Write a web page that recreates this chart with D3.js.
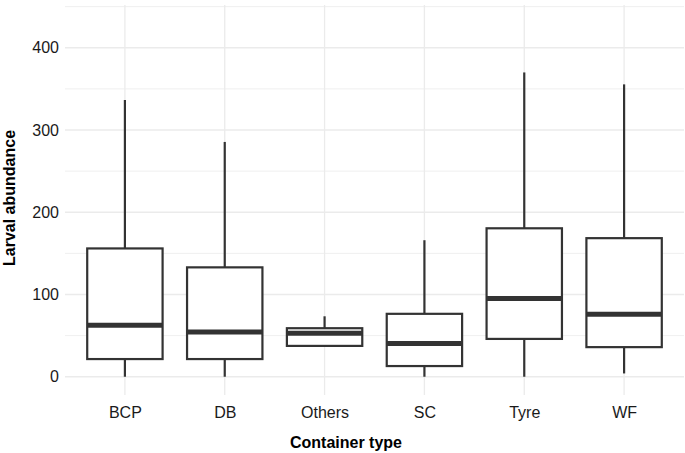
<!DOCTYPE html>
<html>
<head>
<meta charset="utf-8">
<script src="https://cdn.jsdelivr.net/npm/d3@7"></script>
<style>
  html, body { margin: 0; padding: 0; background: #ffffff; }
  svg { display: block; }
</style>
</head>
<body>
<svg id="chart" width="685" height="453"></svg>
<script>
const categories = ["BCP", "DB", "Others", "SC", "Tyre", "WF"];
const whiskerLow = [0, 0, 37, 0, 0, 4];
const q1 = [21.5, 21.5, 37.5, 13, 46, 36];
const median = [62.5, 54.5, 53, 40.5, 95, 76];
const q3 = [156, 133, 59, 76.5, 180.5, 168.5];
const whiskerHigh = [336.5, 285.5, 73.5, 166, 370, 355.5];
const yTicks = [0, 100, 200, 300, 400];
const yMinorTicks = [50, 150, 250, 350, 450];

const data = categories.map((c, i) => ({
  cat: c, lo: whiskerLow[i], q1: q1[i], med: median[i], q3: q3[i], hi: whiskerHigh[i]
}));

const svg = d3.select("#chart");
const pLeft = 65, pRight = 684, pTop = 5, pBottom = 395;

const x = d3.scalePoint().domain(categories).range([pLeft, pRight]).padding(0.6);
const step = x.step();
const boxW = step * 0.755;
const y = d3.scaleLinear().domain([-22.2, 452]).range([pBottom, pTop]);

const grid = svg.append("g");
grid.selectAll("line.minor").data(yMinorTicks).join("line")
  .attr("x1", pLeft).attr("x2", pRight)
  .attr("y1", d => y(d)).attr("y2", d => y(d))
  .attr("stroke", "#ebebeb").attr("stroke-width", 0.8);
grid.selectAll("line.major").data(yTicks).join("line")
  .attr("x1", pLeft).attr("x2", pRight)
  .attr("y1", d => y(d)).attr("y2", d => y(d))
  .attr("stroke", "#ebebeb").attr("stroke-width", 1.3);
grid.selectAll("line.v").data(categories).join("line")
  .attr("x1", d => x(d)).attr("x2", d => x(d))
  .attr("y1", pTop).attr("y2", pBottom)
  .attr("stroke", "#ebebeb").attr("stroke-width", 1.3);

const yAxis = d3.axisLeft(y).tickValues(yTicks).tickSize(0).tickPadding(6);
const gy = svg.append("g").attr("transform", `translate(${pLeft},0)`).call(yAxis);
gy.select(".domain").remove();
gy.selectAll("text").attr("font-family", "Liberation Sans, Arial, sans-serif")
  .attr("font-size", 16).attr("fill", "#1a1a1a");

const xAxis = d3.axisBottom(x).tickSize(0).tickPadding(12);
const gx = svg.append("g").attr("transform", `translate(0,${pBottom})`).call(xAxis);
gx.select(".domain").remove();
gx.selectAll("text").attr("font-family", "Liberation Sans, Arial, sans-serif")
  .attr("font-size", 16).attr("fill", "#1a1a1a");

const stroke = "#333333";
const g = svg.append("g");
const b = g.selectAll("g.box").data(data).join("g");
b.append("line")
  .attr("x1", d => x(d.cat)).attr("x2", d => x(d.cat))
  .attr("y1", d => y(d.q3)).attr("y2", d => y(d.hi))
  .attr("stroke", stroke).attr("stroke-width", 2.2);
b.append("line")
  .attr("x1", d => x(d.cat)).attr("x2", d => x(d.cat))
  .attr("y1", d => y(d.q1)).attr("y2", d => y(d.lo))
  .attr("stroke", stroke).attr("stroke-width", 2.2);
b.append("rect")
  .attr("x", d => x(d.cat) - boxW / 2).attr("width", boxW)
  .attr("y", d => y(d.q3)).attr("height", d => y(d.q1) - y(d.q3))
  .attr("fill", "#ffffff").attr("stroke", stroke).attr("stroke-width", 2.2);
b.append("line")
  .attr("x1", d => x(d.cat) - boxW / 2).attr("x2", d => x(d.cat) + boxW / 2)
  .attr("y1", d => y(d.med)).attr("y2", d => y(d.med))
  .attr("stroke", stroke).attr("stroke-width", 5);

svg.append("text")
  .attr("x", 346).attr("y", 447.5)
  .attr("text-anchor", "middle")
  .attr("font-family", "Liberation Sans, Arial, sans-serif")
  .attr("font-size", 16).attr("font-weight", "bold").attr("fill", "#000")
  .text("Container type");
svg.append("text")
  .attr("transform", `translate(15,198) rotate(-90)`)
  .attr("text-anchor", "middle")
  .attr("font-family", "Liberation Sans, Arial, sans-serif")
  .attr("font-size", 16).attr("font-weight", "bold").attr("fill", "#000")
  .text("Larval abundance");
</script>
</body>
</html>
